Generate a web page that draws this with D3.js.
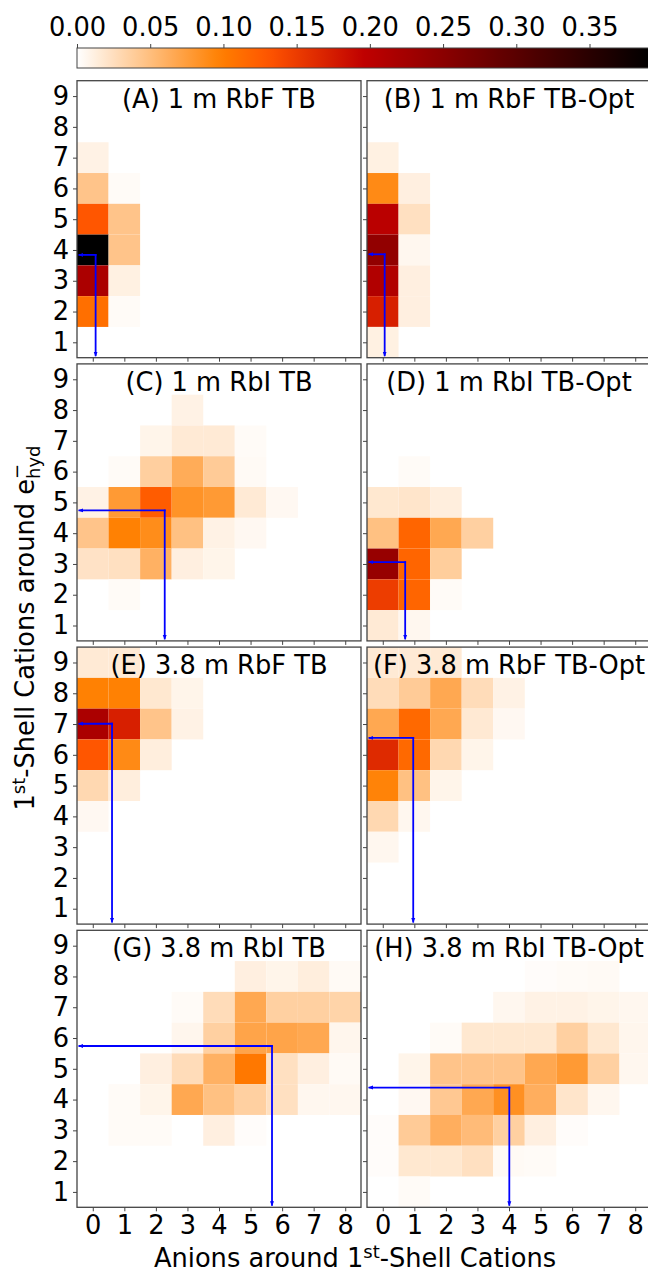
<!DOCTYPE html>
<html><head><meta charset="utf-8">
<script src="https://cdn.jsdelivr.net/npm/d3@7"></script>
<style>
body{margin:0;background:#fff}
svg{display:block}
text{font-family:"DejaVu Sans",sans-serif}
</style>
</head><body>
<svg id="chart" width="648" height="1272"></svg>
<script>
// ---------------- data ----------------
const xCategories = [0,1,2,3,4,5,6,7,8];          // anions around 1st-shell cations
const yCategories = [9,8,7,6,5,4,3,2,1];          // 1st-shell cations (matrix rows, top to bottom)
const colorTicks = [0.00,0.05,0.10,0.15,0.20,0.25,0.30,0.35];
const vmax = 0.392;
const titles = ["(A) 1 m RbF TB","(B) 1 m RbF TB-Opt","(C) 1 m RbI TB","(D) 1 m RbI TB-Opt",
                "(E) 3.8 m RbF TB","(F) 3.8 m RbF TB-Opt","(G) 3.8 m RbI TB","(H) 3.8 m RbI TB-Opt"];

// rows: y = 9 .. 1 ; columns: x = 0 .. 8
const panelA = [
 [0,0,0,0,0,0,0,0,0],
 [0,0,0,0,0,0,0,0,0],
 [0.010,0,0,0,0,0,0,0,0],
 [0.045,0.003,0,0,0,0,0,0,0],
 [0.130,0.045,0,0,0,0,0,0,0],
 [0.400,0.045,0,0,0,0,0,0,0],
 [0.217,0.011,0,0,0,0,0,0,0],
 [0.111,0.003,0,0,0,0,0,0,0],
 [0,0,0,0,0,0,0,0,0]];
const panelB = [
 [0,0,0,0,0,0,0,0,0],
 [0,0,0,0,0,0,0,0,0],
 [0.011,0,0,0,0,0,0,0,0],
 [0.090,0.012,0,0,0,0,0,0,0],
 [0.201,0.024,0,0,0,0,0,0,0],
 [0.242,0.006,0,0,0,0,0,0,0],
 [0.211,0.012,0,0,0,0,0,0,0],
 [0.172,0.012,0,0,0,0,0,0,0],
 [0.011,0,0,0,0,0,0,0,0]];
const panelC = [
 [0,0,0,0,0,0,0,0,0],
 [0,0,0,0.010,0,0,0,0,0],
 [0,0,0.008,0.016,0.016,0.003,0,0,0],
 [0,0.003,0.037,0.064,0.040,0.004,0,0,0],
 [0.010,0.078,0.125,0.083,0.078,0.016,0.005,0,0],
 [0.045,0.097,0.088,0.048,0.010,0.005,0,0,0],
 [0.022,0.024,0.060,0.012,0.008,0,0,0,0],
 [0,0.003,0,0,0,0,0,0,0],
 [0,0,0,0,0,0,0,0,0]];
const panelD = [
 [0,0,0,0,0,0,0,0,0],
 [0,0,0,0,0,0,0,0,0],
 [0,0,0,0,0,0,0,0,0],
 [0,0.003,0,0,0,0,0,0,0],
 [0.018,0.020,0.013,0,0,0,0,0,0],
 [0.048,0.118,0.067,0.036,0,0,0,0,0],
 [0.237,0.118,0.038,0,0,0,0,0,0],
 [0.149,0.118,0.003,0,0,0,0,0,0],
 [0.016,0.006,0,0,0,0,0,0,0]];
const panelE = [
 [0.016,0.016,0,0,0,0,0,0,0],
 [0.097,0.097,0.018,0.008,0,0,0,0,0],
 [0.217,0.172,0.045,0.010,0,0,0,0,0],
 [0.130,0.090,0.013,0,0,0,0,0,0],
 [0.030,0.013,0,0,0,0,0,0,0],
 [0.005,0,0,0,0,0,0,0,0],
 [0,0,0,0,0,0,0,0,0],
 [0,0,0,0,0,0,0,0,0],
 [0,0,0,0,0,0,0,0,0]];
const panelF = [
 [0.016,0.016,0.016,0,0,0,0,0,0],
 [0.027,0.040,0.067,0.027,0.010,0,0,0,0],
 [0.067,0.115,0.067,0.017,0.005,0,0,0,0],
 [0.164,0.115,0.030,0.008,0,0,0,0,0],
 [0.095,0.048,0.008,0,0,0,0,0,0],
 [0.030,0.006,0,0,0,0,0,0,0],
 [0.006,0,0,0,0,0,0,0,0],
 [0,0,0,0,0,0,0,0,0],
 [0,0,0,0,0,0,0,0,0]];
const panelG = [
 [0,0,0,0,0,0,0,0,0],
 [0,0,0,0,0,0.012,0.008,0.013,0.004],
 [0,0,0,0.003,0.027,0.067,0.036,0.036,0.033],
 [0,0,0,0.007,0.036,0.070,0.070,0.067,0.007],
 [0,0,0.012,0.027,0.060,0.104,0.024,0.012,0.004],
 [0,0.003,0.008,0.067,0.048,0.036,0.024,0.006,0.006],
 [0,0.003,0.003,0,0.012,0.002,0,0,0],
 [0,0,0,0,0,0,0,0,0],
 [0,0,0,0,0,0,0,0,0]];
const panelH = [
 [0,0,0,0,0,0,0,0,0],
 [0,0,0,0,0,0.002,0.003,0.004,0],
 [0,0,0,0,0.006,0.010,0.010,0.008,0.006],
 [0,0,0.003,0.018,0.018,0.018,0.036,0.018,0.007],
 [0,0.008,0.045,0.045,0.045,0.067,0.078,0.036,0.006],
 [0,0.005,0.042,0.067,0.085,0.062,0.020,0.006,0],
 [0.002,0.040,0.062,0.052,0.036,0.012,0.002,0,0],
 [0.002,0.018,0.018,0.024,0.004,0.003,0,0,0],
 [0,0.003,0,0,0,0,0,0,0]];
const panels = [panelA,panelB,panelC,panelD,panelE,panelF,panelG,panelH];
// mean (blue marker) positions per panel
const meanX = [0.09,0.06,2.28,0.71,0.61,0.965,5.68,4.01];
const meanY = [3.84,3.86,4.74,3.06,7.01,6.55,5.74,4.39];

// ---------------- layout ----------------
const svg = d3.select("#chart");
const FS = 25.7;
const colX = [77, 367], panW = 284;
const rowY = [80.7, 363.9, 647.1, 930.3], panH = 277;
const BLUE = "#0000ff";

// gist_heat_r colormap
function gistHeatR(t){
  const x = 1 - Math.max(0, Math.min(1, t));
  const c = v => Math.round(255*Math.max(0, Math.min(1, v)));
  return `rgb(${c(1.5*x)},${c(2*x-1)},${c(4*x-3)})`;
}
const color = d3.scaleSequential(gistHeatR).domain([0, vmax]).clamp(true);

// ---------------- colorbar ----------------
const cbY = 48, cbH = 20;
const cbScale = d3.scaleLinear().domain([0, vmax]).range([77, 651]);
const defs = svg.append("defs");
const grad = defs.append("linearGradient").attr("id","cbgrad")
  .attr("gradientUnits","userSpaceOnUse").attr("x1",cbScale(0)).attr("x2",cbScale(vmax)).attr("y1",0).attr("y2",0);
d3.range(0, 1.0001, 0.02).forEach(t => {
  grad.append("stop").attr("offset", t).attr("stop-color", color(t*vmax));
});
svg.append("rect").attr("x",cbScale(0)).attr("y",cbY).attr("width",cbScale(vmax)-cbScale(0)).attr("height",cbH)
  .attr("fill","url(#cbgrad)").attr("stroke","#444").attr("stroke-width",1);
const cbAxis = svg.append("g").attr("transform",`translate(0,${cbY})`)
  .call(d3.axisTop(cbScale).tickValues(colorTicks).tickFormat(d3.format(".2f")).tickSize(4).tickPadding(8));
cbAxis.select(".domain").remove();
cbAxis.selectAll("text").style("font-size",FS+"px").attr("fill","#000").style("font-family","DejaVu Sans");
cbAxis.selectAll("line").attr("stroke","#444");

// arrow marker
defs.append("marker").attr("id","arrow").attr("viewBox","0 0 10 10").attr("refX",9).attr("refY",5)
  .attr("markerWidth",5).attr("markerHeight",5).attr("markerUnits","userSpaceOnUse").attr("orient","auto")
  .append("path").attr("d","M0,1 L10,5 L0,9 Z").attr("fill",BLUE);

// ---------------- panels ----------------
panels.forEach((mat, k) => {
  const col = k % 2, row = Math.floor(k / 2);
  const x0 = colX[col], y0 = rowY[row];
  const xs = d3.scaleLinear().domain([-0.5, 8.5]).range([x0, x0 + panW]);
  const ys = d3.scaleLinear().domain([0.5, 9.5]).range([y0 + panH, y0]);
  const g = svg.append("g");

  const cells = [];
  mat.forEach((r, ri) => r.forEach((v, ci) => { if (v > 0) cells.push({x: xCategories[ci], y: yCategories[ri], v}); }));
  g.selectAll("rect.cell").data(cells).join("rect").attr("class","cell")
    .attr("x", d => xs(d.x - 0.5)).attr("y", d => ys(d.y + 0.5))
    .attr("width", d => xs(d.x + 0.5) - xs(d.x - 0.5))
    .attr("height", d => ys(d.y - 0.5) - ys(d.y + 0.5))
    .attr("fill", d => color(d.v));

  // title
  g.append("text").attr("x", x0 + panW/2).attr("y", y0 + 27).attr("text-anchor","middle")
    .style("font-size", FS+"px").attr("fill","#000").text(titles[k]);

  // blue guide arrows
  const mx = xs(meanX[k]), my = ys(meanY[k]);
  g.append("line").attr("x1",mx+0.9).attr("y1",my).attr("x2",xs(-0.45)).attr("y2",my)
    .attr("stroke",BLUE).attr("stroke-width",1.8).attr("marker-end","url(#arrow)");
  g.append("line").attr("x1",mx).attr("y1",my-0.9).attr("x2",mx).attr("y2",ys(0.55))
    .attr("stroke",BLUE).attr("stroke-width",1.8).attr("marker-end","url(#arrow)");

  // frame
  g.append("rect").attr("x",x0).attr("y",y0).attr("width",panW).attr("height",panH)
    .attr("fill","none").attr("stroke","#444").attr("stroke-width",1.3);

  // axes
  const ax = g.append("g").attr("transform",`translate(0,${y0+panH})`)
    .call(d3.axisBottom(xs).tickValues(xCategories).tickSize(4).tickPadding(4)
      .tickFormat(row === 3 ? d3.format("d") : () => ""));
  const ay = g.append("g").attr("transform",`translate(${x0},0)`)
    .call(d3.axisLeft(ys).tickValues([1,2,3,4,5,6,7,8,9]).tickSize(4).tickPadding(4)
      .tickFormat(col === 0 ? d3.format("d") : () => ""));
  [ax, ay].forEach(a => {
    a.select(".domain").remove();
    a.selectAll("line").attr("stroke","#444").attr("stroke-width",1);
    a.selectAll("text").style("font-size",FS+"px").style("font-family","DejaVu Sans").attr("fill","#000");
  });
});

// ---------------- axis labels ----------------
const xl = svg.append("text").attr("x", 355).attr("y", 1267).attr("text-anchor","middle")
  .style("font-size", FS+"px").attr("fill","#000");
xl.append("tspan").text("Anions around 1");
xl.append("tspan").text("st").style("font-size","18px").attr("dy",-9);
xl.append("tspan").text("-Shell Cations").attr("dy",9);

const yg = svg.append("g").attr("transform","translate(34,628) rotate(-90)");
const yl = yg.append("text").attr("x",0).attr("y",0).attr("text-anchor","middle")
  .style("font-size", FS+"px").attr("fill","#000");
yl.append("tspan").text("1");
yl.append("tspan").text("st").style("font-size","18px").attr("dy",-9);
yl.append("tspan").text("-Shell Cations around e").attr("dy",9);
const minus = yl.append("tspan").text("\u2212").style("font-size","18px").attr("dy",-11);
const hyd = yl.append("tspan").text("hyd").style("font-size","18px").attr("dy",17);
const mw = minus.node().getComputedTextLength();
hyd.attr("dx", -mw);
</script>
</body></html>
